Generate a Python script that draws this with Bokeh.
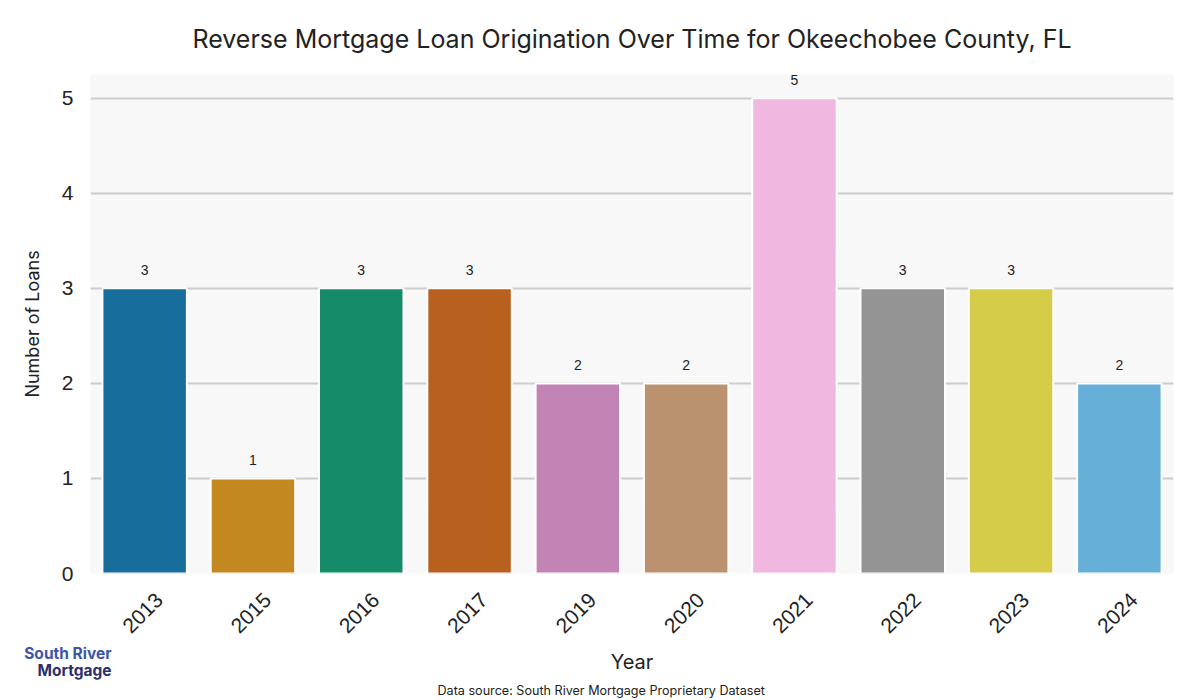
import math
from bokeh.plotting import figure
from bokeh.models import (ColumnDataSource, Label, LabelSet, Title, LinearAxis,
                          Range1d, FixedTicker)
from bokeh.core.properties import value
from bokeh.embed import file_html
from bokeh.resources import INLINE

years = ["2013", "2015", "2016", "2017", "2019", "2020", "2021", "2022", "2023", "2024"]
loans = [3, 1, 3, 3, 2, 2, 5, 3, 3, 2]
bar_colors = ["#176d9c", "#c38820", "#168b69", "#b8601e", "#c283b5",
              "#bb9270", "#f0b7e0", "#949494", "#d5cc4a", "#66afd8"]
y_ticks = [0, 1, 2, 3, 4, 5]

TITLE = "Reverse Mortgage Loan Origination Over Time for Okeechobee County, FL"

pos = [i + 0.5 for i in range(len(years))]
src = ColumnDataSource(dict(x=pos, year=years, top=loans, color=bar_colors,
                            label=[str(v) for v in loans]))

p = figure(x_range=Range1d(0, len(years)), y_range=(0, 5.25),
           frame_width=1083, frame_height=499,
           min_border_left=90, min_border_right=27, min_border_top=74, min_border_bottom=127,
           x_axis_location=None,
           output_backend="svg", toolbar_location=None, background_fill_color="#f8f8f8",
           border_fill_color="white", outline_line_color=None)
p.title_location = None

p.vbar(x="x", top="top", width=0.78, source=src, fill_color="color",
       line_color="white", line_width=2)

p.add_layout(LabelSet(x="x", y="top", text="label", source=src, y_offset=18,
                      text_align="center", text_baseline="middle",
                      text_font=value("Liberation Sans"), text_font_size=value("14px"),
                      text_color="#222222"))

# x axis on a helper range shifted so the rotated labels centre on the bars
shift = 0.135
p.extra_x_ranges = {"lab": Range1d(start=-shift, end=len(years) - shift)}
xa = LinearAxis(x_range_name="lab", ticker=FixedTicker(ticks=pos),
                major_label_overrides={x: y for x, y in zip(pos, years)})
xa.major_label_orientation = math.pi / 4
xa.major_label_text_font = "Liberation Sans"
xa.major_label_text_font_size = "21px"
xa.major_label_text_color = "#222222"
xa.major_label_standoff = 17
xa.axis_line_color = None
xa.major_tick_line_color = None
xa.minor_tick_line_color = None
xa.axis_label = "Year"
xa.axis_label_text_font = "Inter"
xa.axis_label_text_font_style = "normal"
xa.axis_label_text_font_size = "20px"
xa.axis_label_text_color = "#222222"
xa.axis_label_standoff = 8

p.yaxis.ticker = FixedTicker(ticks=y_ticks)
p.yaxis.axis_line_color = None
p.yaxis.major_tick_line_color = None
p.yaxis.minor_tick_line_color = None
p.yaxis.major_label_standoff = 11
p.yaxis.major_label_text_font = "Liberation Sans"
p.yaxis.major_label_text_font_size = "21px"
p.yaxis.major_label_text_color = "#222222"
p.yaxis.axis_label = "Number of Loans"
p.yaxis.axis_label_text_font = "Inter"
p.yaxis.axis_label_text_font_style = "normal"
p.yaxis.axis_label_text_font_size = "18px"
p.yaxis.axis_label_text_color = "#222222"
p.yaxis.axis_label_standoff = 16

p.xgrid.grid_line_color = None
p.ygrid.grid_line_color = "#cccccc"
p.ygrid.grid_line_width = 2

source_note = Title(text="Data source: South River Mortgage Proprietary Dataset",
                    align="left", offset=347, text_font="Inter", text_font_style="normal",
                    text_font_size="12.6px", text_color="#222222", standoff=6)
p.below = [xa, source_note]

# Top panel bands (frame side outwards): logo line 1, logo line 2, chart title.
# Label screen coordinates are taken from the bottom-left corner of each band.
NAVY = "#2b2f6b"
logo1 = Label(x=21, y=-579, x_units="screen", y_units="screen", text="South River",
              text_align="right", text_baseline="middle", text_font="Inter",
              text_font_style="bold", text_font_size="15.5px", text_color="#3d56a6")
logo2 = Label(x=21, y=-615, x_units="screen", y_units="screen", text="Mortgage",
              text_align="right", text_baseline="middle", text_font="Inter",
              text_font_style="bold", text_font_size="15.5px", text_color=NAVY)
title = Label(x=541.5, y=-2, x_units="screen", y_units="screen", text=TITLE,
              text_align="center", text_baseline="middle", text_font="Inter",
              text_font_size="25px", text_color="#222222")
p.above = [logo1, logo2, title]

open("out.html", "w").write(file_html(p, INLINE))
